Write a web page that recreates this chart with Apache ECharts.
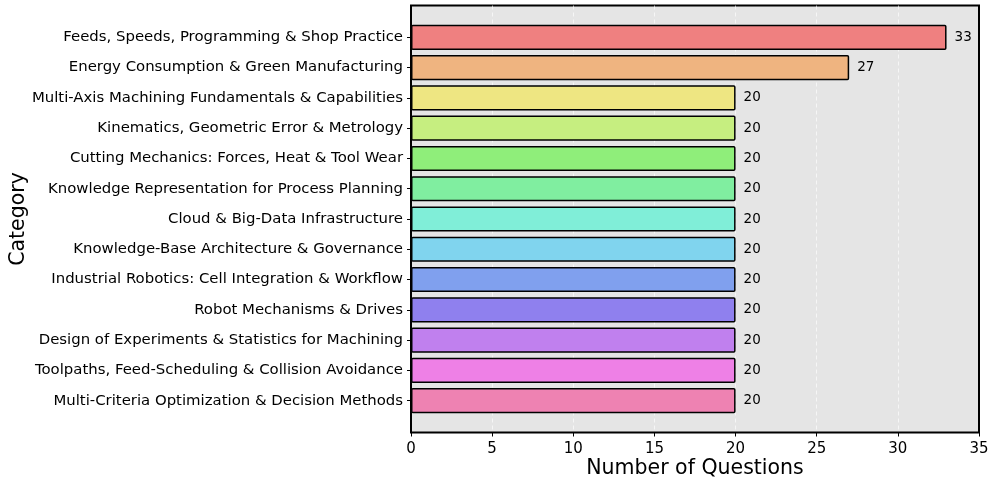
<!DOCTYPE html>
<html>
<head>
<meta charset="utf-8">
<script src="https://cdn.jsdelivr.net/npm/echarts@6/dist/echarts.min.js"></script>
<style>
  html, body { margin: 0; padding: 0; background: #fff; }
  #chart { width: 992px; height: 482px; }
</style>
</head>
<body>
<div id="chart"></div>
<script>
// categories, top to bottom
const categories = [
  'Feeds, Speeds, Programming & Shop Practice',
  'Energy Consumption & Green Manufacturing',
  'Multi-Axis Machining Fundamentals & Capabilities',
  'Kinematics, Geometric Error & Metrology',
  'Cutting Mechanics: Forces, Heat & Tool Wear',
  'Knowledge Representation for Process Planning',
  'Cloud & Big-Data Infrastructure',
  'Knowledge-Base Architecture & Governance',
  'Industrial Robotics: Cell Integration & Workflow',
  'Robot Mechanisms & Drives',
  'Design of Experiments & Statistics for Machining',
  'Toolpaths, Feed-Scheduling & Collision Avoidance',
  'Multi-Criteria Optimization & Decision Methods'
]
const counts = [33, 27, 20, 20, 20, 20, 20, 20, 20, 20, 20, 20, 20]
const barColors = [
  '#EF8080', '#EFB480', '#EEE682', '#C6EE80', '#8FEE7A', '#80EEA0', '#80EED8',
  '#80D4EE', '#80A0EE', '#8F80EE', '#C080EE', '#EE80E6', '#EE82B2'
]
const xTicks = { min: 0, max: 35, interval: 5 }

const font = 'DejaVu Sans'
const chart = echarts.init(document.getElementById('chart'))

// plot frame (grid 0) and inset grid for the bars (grid 1), like matplotlib margins
const frame = { left: 411, right: 13, top: 5.5, bottom: 49.5 }
const pad = 16.7

chart.setOption({
  animation: false,
  grid: [
    {
      left: frame.left, right: frame.right, top: frame.top, bottom: frame.bottom,
      outerBoundsMode: 'none', containLabel: false,
      show: true, backgroundColor: '#E5E5E5', borderColor: '#000', borderWidth: 2
    },
    {
      left: frame.left, right: frame.right, top: frame.top + pad, bottom: frame.bottom + pad,
      outerBoundsMode: 'none', containLabel: false
    }
  ],
  xAxis: [
    {
      gridIndex: 0,
      type: 'value',
      min: xTicks.min, max: xTicks.max, interval: xTicks.interval,
      name: 'Number of Questions',
      nameLocation: 'middle',
      nameGap: 26,
      nameMoveOverlap: false,
      nameTextStyle: { fontFamily: font, fontSize: 20.5, color: '#000' },
      axisLine: { show: false },
      axisTick: { show: true, length: 4, lineStyle: { color: '#000' } },
      axisLabel: { fontFamily: font, fontSize: 15, color: '#000', margin: 9 },
      splitLine: {
        show: true, showMinLine: false, showMaxLine: false,
        lineStyle: { color: '#fff', type: [4, 3], width: 0.8, opacity: 0.8 }
      }
    },
    {
      gridIndex: 1,
      type: 'value',
      min: xTicks.min, max: xTicks.max,
      show: false
    }
  ],
  yAxis: [
    {
      gridIndex: 0,
      type: 'value',
      show: false
    },
    {
      gridIndex: 1,
      type: 'category',
      inverse: true,
      data: categories,
      name: 'Category',
      nameLocation: 'middle',
      nameGap: 382,
      nameMoveOverlap: false,
      nameRotate: 90,
      nameTextStyle: { fontFamily: font, fontSize: 20.5, color: '#000' },
      axisLine: { show: false },
      axisTick: { show: true, alignWithLabel: true, length: 4, lineStyle: { color: '#000' } },
      axisLabel: { fontFamily: font, fontSize: 14.9, color: '#000', margin: 8 }
    }
  ],
  series: [
    {
      type: 'bar',
      xAxisIndex: 1,
      yAxisIndex: 1,
      barCategoryGap: '17%',
      data: counts.map((v, i) => ({
        value: v,
        itemStyle: { color: barColors[i] }
      })),
      itemStyle: { borderColor: '#000', borderWidth: 1.5, borderRadius: 1 },
      label: {
        show: true,
        position: 'right',
        distance: 8,
        fontFamily: font,
        fontSize: 13.5,
        color: '#000'
      }
    }
  ]
})
</script>
</body>
</html>
